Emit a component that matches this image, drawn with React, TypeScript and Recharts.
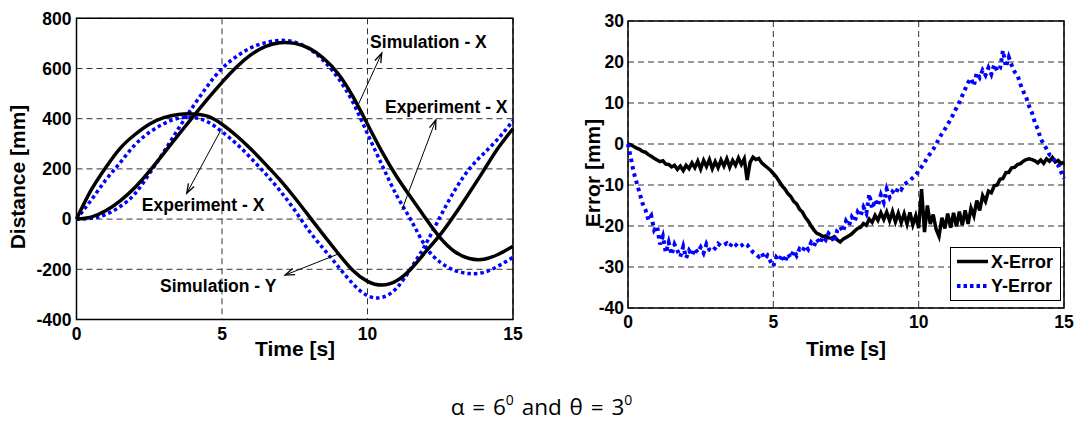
import { LineChart, Line, XAxis, YAxis, CartesianGrid, ReferenceArea, ReferenceDot, ReferenceLine } from "recharts";

// ---- left chart: distance vs time ----
const timeA = [0, 0.5, 1, 1.5, 2, 2.5, 3, 3.5, 4, 4.5, 5, 5.5, 6, 6.5, 7, 7.5, 8, 8.5, 9, 9.5, 10, 10.5, 11, 11.5, 12, 12.5, 13, 13.5, 14, 14.5, 15];
const simX = [0, 8, 33, 73, 125, 190, 262, 335, 407, 478, 545, 606, 655, 688, 703, 700, 680, 640, 578, 488, 378, 268, 170, 85, 2, -75, -130, -157, -160, -140, -108];
const simY = [0, 115, 205, 282, 336, 378, 404, 417, 419, 410, 378, 332, 278, 218, 155, 85, 10, -65, -138, -205, -248, -263, -246, -198, -130, -62, 18, 105, 195, 285, 360];
const expX = [0, 3, 18, 50, 100, 180, 268, 360, 448, 530, 600, 648, 683, 703, 712, 705, 678, 630, 560, 465, 340, 215, 95, -5, -110, -172, -205, -217, -212, -187, -152];
const expY = [0, 75, 155, 225, 295, 345, 380, 402, 405, 388, 348, 300, 242, 180, 112, 35, -48, -120, -190, -258, -305, -312, -275, -195, -100, 10, 115, 200, 262, 322, 392];
const distTicks = [-400, -200, 0, 200, 400, 600, 800];
const timeTicks = [0, 5, 10, 15];

// ---- right chart: error vs time ----
const timeE = [
  0, 0.1, 0.2, 0.3, 0.4, 0.5, 0.6, 0.7, 0.8, 0.9, 1, 1.1, 1.2, 1.3, 1.4, 1.5, 1.6, 1.7, 1.8, 1.9,
  2, 2.1, 2.2, 2.3, 2.4, 2.5, 2.6, 2.7, 2.8, 2.9, 3, 3.1, 3.2, 3.3, 3.4, 3.5, 3.6, 3.7, 3.8, 3.9,
  4, 4.1, 4.2, 4.3, 4.4, 4.5, 4.6, 4.7, 4.8, 4.9, 5, 5.1, 5.2, 5.3, 5.4, 5.5, 5.6, 5.7, 5.8, 5.9,
  6, 6.1, 6.2, 6.3, 6.4, 6.5, 6.6, 6.7, 6.8, 6.9, 7, 7.1, 7.2, 7.3, 7.4, 7.5, 7.6, 7.7, 7.8, 7.9,
  8, 8.1, 8.2, 8.3, 8.4, 8.5, 8.6, 8.7, 8.8, 8.9, 9, 9.1, 9.2, 9.3, 9.4, 9.5, 9.6, 9.7, 9.8, 9.9,
  10, 10.1, 10.2, 10.3, 10.4, 10.5, 10.6, 10.7, 10.8, 10.9, 11, 11.1, 11.2, 11.3, 11.4, 11.5, 11.6, 11.7, 11.8, 11.9,
  12, 12.1, 12.2, 12.3, 12.4, 12.5, 12.6, 12.7, 12.8, 12.9, 13, 13.1, 13.2, 13.3, 13.4, 13.5, 13.6, 13.7, 13.8, 13.9,
  14, 14.1, 14.2, 14.3, 14.4, 14.5, 14.6, 14.7, 14.8, 14.9, 15,
];
const xErr = [
  0, -0.2, -0.6, -1.0, -1.3, -1.8, -2.0, -2.6, -3.0, -3.5, -3.9, -4.3, -4.1, -4.9, -5.0, -5.6, -5.2, -6.2, -5.4, -6.5,
  -5.2, -6.0, -4.6, -5.8, -4.2, -6.1, -4.0, -5.5, -3.8, -6.0, -4.3, -5.8, -3.9, -5.4, -3.6, -5.7, -4.0, -5.2, -3.4, -5.0,
  -3.6, -8.8, -4.5, -3.2, -3.8, -3.5, -4.6, -5.2, -5.8, -6.4, -7.2, -8.0, -9.1, -10.2, -11.0, -12.1, -12.8, -14.0, -14.6, -15.9,
  -16.6, -17.9, -18.8, -20.0, -21.0, -21.8, -22.1, -22.6, -22.4, -22.9, -23.0, -22.6, -23.4, -23.9, -23.2, -22.8, -22.4, -21.9, -21.2, -20.6,
  -20.3, -19.4, -19.8, -18.3, -19.1, -17.4, -18.6, -16.8, -18.4, -16.6, -18.7, -16.5, -19.0, -16.9, -19.2, -17.0, -19.5, -16.7, -19.7, -17.5,
  -20.5, -11.0, -21.5, -15.0, -19.5, -17.2, -20.8, -22.5, -18.0, -20.6, -17.0, -20.4, -16.8, -20.1, -16.5, -19.8, -16.2, -19.5, -15.6, -17.5,
  -13.8, -16.2, -12.6, -14.0, -11.5, -11.9, -10.2, -10.0, -8.6, -8.4, -7.0, -6.9, -5.8, -5.7, -5.0, -4.8, -4.2, -3.8, -3.6, -3.8,
  -4.1, -4.6, -3.9, -4.7, -3.6, -4.2, -3.3, -4.4, -4.0, -4.8, -4.4,
];
const yErr = [
  0, -3.5, -7.0, -9.5, -12.0, -14.5, -16.0, -18.5, -17.5, -21.0, -20.0, -24.5, -22.5, -26.5, -24.0, -27.0, -24.5, -26.0, -27.5, -25.0,
  -27.8, -26.0, -27.2, -25.5, -26.5, -25.2, -26.6, -24.4, -25.8, -26.2, -25.4, -24.3, -24.9, -24.6, -24.2, -25.0, -24.0, -24.5, -25.2, -24.8,
  -24.2, -24.6, -25.5, -26.4, -26.9, -27.5, -26.6, -28.0, -27.2, -28.6, -29.8, -27.6, -28.4, -27.0, -28.8, -26.8, -27.8, -26.0, -27.2, -25.6,
  -26.2, -24.8, -25.7, -24.0, -24.9, -23.2, -24.3, -22.6, -23.4, -21.8, -22.6, -24.0, -21.0, -20.2, -21.4, -18.8, -19.9, -17.8, -18.9, -16.6,
  -17.6, -15.4, -16.9, -12.2, -15.8, -13.6, -15.1, -12.4, -14.2, -11.0, -13.0, -11.6, -12.2, -10.6, -11.1, -9.8, -9.4, -8.9, -8.2, -7.6,
  -6.6, -5.6, -4.6, -3.2, -2.3, -1.3, -0.1, 1.3, 2.5, 3.6, 4.8, 6.0, 7.4, 8.8, 10.2, 11.8, 13.4, 15.0, 16.0, 14.2,
  17.4, 16.2, 18.0, 16.8, 18.6, 17.0, 19.4, 17.8, 18.4, 22.8, 18.8, 21.2, 19.2, 17.6, 16.8, 14.6, 12.8, 11.4, 9.2, 7.6,
  5.2, 3.6, 1.2, 0.0, -1.2, -2.6, -3.0, -4.6, -5.2, -6.8, -8.4,
];
const errTicks = [-40, -30, -20, -10, 0, 10, 20, 30];

// annotations on the left chart: text anchor point and arrow (tail -> head)
const notes = [
  { text: "Simulation - X", x: 10.09, y: 704, anchor: "start", from: { x: 9.65, y: 448 }, to: { x: 10.49, y: 661 } },
  { text: "Experiment - X", x: 10.6, y: 448, anchor: "start", from: { x: 11.18, y: 36 }, to: { x: 12.35, y: 395 } },
  { text: "Experiment - X", x: 4.35, y: 56, anchor: "middle", from: { x: 4.93, y: 348 }, to: { x: 3.79, y: 103 } },
  { text: "Simulation - Y", x: 2.87, y: -267, anchor: "start", from: { x: 9.06, y: -136 }, to: { x: 7.17, y: -223 } },
];

const FONT = "'Liberation Sans', Arial, sans-serif";
const BLUE = "#0000ff";
const tickStyle = { fill: "#000", fontSize: 17.5, fontWeight: 700, fontFamily: FONT };

const distData = timeA.map((t, i) => ({ t, simX: simX[i], simY: simY[i], expX: expX[i], expY: expY[i] }));
const errData = timeE.map((t, i) => ({ t, xErr: xErr[i], yErr: yErr[i] }));

function Arrow(props: any) {
  const { x1, y1, x2, y2 } = props;
  const ang = Math.atan2(y2 - y1, x2 - x1);
  const h = 10;
  const w = 0.33;
  const ax = x2 - h * Math.cos(ang - w);
  const ay = y2 - h * Math.sin(ang - w);
  const bx = x2 - h * Math.cos(ang + w);
  const by = y2 - h * Math.sin(ang + w);
  return (
    <g>
      <line x1={x1} y1={y1} x2={x2} y2={y2} stroke="#000" strokeWidth={1} />
      <polyline points={`${ax},${ay} ${x2},${y2} ${bx},${by}`} fill="none" stroke="#000" strokeWidth={1.3} />
    </g>
  );
}

const axisTitle = { position: "absolute" as const, fontFamily: FONT, fontWeight: 700, fontSize: 21, lineHeight: "21px", color: "#000", whiteSpace: "nowrap" as const };

export default function App() {
  return (
    <div style={{ position: "absolute", left: 0, top: 0, width: 1083, height: 424, background: "#fff", overflow: "hidden" }}>
      <div style={{ position: "absolute", left: 0, top: 0 }}>
        <LineChart width={540} height={360} data={distData} margin={{ top: 18.3, right: 27, bottom: 10.5, left: 16.5 }}>
          <CartesianGrid stroke="#333" strokeDasharray="6 4" />
          <XAxis dataKey="t" type="number" domain={[0, 15]} ticks={timeTicks} tick={tickStyle} tickLine={false} axisLine={false} height={30} />
          <YAxis type="number" domain={[-400, 800]} ticks={distTicks} tick={tickStyle} tickLine={false} axisLine={false} width={60} tickSize={3} tickMargin={2} />
          <ReferenceArea x1={0} x2={15} y1={-400} y2={800} fill="none" stroke="#000" strokeWidth={1.5} ifOverflow="visible" />
          <Line dataKey="expY" type="natural" stroke={BLUE} strokeWidth={3.5} strokeDasharray="3.5 3" dot={false} isAnimationActive={false} />
          <Line dataKey="expX" type="natural" stroke={BLUE} strokeWidth={3.5} strokeDasharray="3.5 3" dot={false} isAnimationActive={false} />
          <Line dataKey="simY" type="natural" stroke="#000" strokeWidth={3.5} dot={false} isAnimationActive={false} />
          <Line dataKey="simX" type="natural" stroke="#000" strokeWidth={3.5} dot={false} isAnimationActive={false} />
          {notes.map((n, i) => (
            <ReferenceLine key={"a" + i} segment={[n.from, n.to]} shape={Arrow} ifOverflow="visible" />
          ))}
          {notes.map((n, i) => (
            <ReferenceDot
              key={"n" + i}
              x={n.x}
              y={n.y}
              ifOverflow="visible"
              shape={(p: any) => (
                <text x={p.cx} y={p.cy} textAnchor={n.anchor} dominantBaseline="central" fontFamily={FONT} fontWeight={700} fontSize={17.5} fill="#000">
                  {n.text}
                </text>
              )}
            />
          ))}
        </LineChart>
      </div>

      <div style={{ position: "absolute", left: 540, top: 0 }}>
        <LineChart width={543} height={360} data={errData} margin={{ top: 21, right: 19, bottom: 22, left: 28 }}>
          <CartesianGrid stroke="#333" strokeDasharray="6 4" />
          <XAxis dataKey="t" type="number" domain={[0, 15]} ticks={timeTicks} tick={tickStyle} tickLine={false} axisLine={false} height={30} />
          <YAxis type="number" domain={[-40, 30]} ticks={errTicks} tick={tickStyle} tickLine={false} axisLine={false} width={60} tickSize={2} tickMargin={2} />
          <ReferenceArea x1={0} x2={15} y1={-40} y2={30} fill="none" stroke="#000" strokeWidth={1.5} ifOverflow="visible" />
          <Line dataKey="xErr" type="linear" stroke="#000" strokeWidth={3.5} dot={false} isAnimationActive={false} />
          <Line dataKey="yErr" type="linear" stroke={BLUE} strokeWidth={4} strokeDasharray="3.5 4" dot={false} isAnimationActive={false} />
        </LineChart>
      </div>

      {/* legend of the right chart */}
      <div style={{ position: "absolute", left: 950, top: 246.5, width: 111, height: 54, boxSizing: "border-box", border: "1.5px solid #000", background: "#fff" }}>
        <svg width={108} height={51} style={{ position: "absolute", left: 0, top: 0 }}>
          <line x1={6} x2={37} y1={13.5} y2={13.5} stroke="#000" strokeWidth={3.5} />
          <text x={40} y={13.5} dominantBaseline="central" fontFamily={FONT} fontWeight={700} fontSize={18} fill="#000">X-Error</text>
          <line x1={6} x2={37} y1={38} y2={38} stroke={BLUE} strokeWidth={4} strokeDasharray="3.5 3" />
          <text x={40} y={38} dominantBaseline="central" fontFamily={FONT} fontWeight={700} fontSize={18} fill="#000">Y-Error</text>
        </svg>
      </div>

      {/* axis titles */}
      <div style={{ ...axisTitle, left: 17, top: 177, transform: "translate(-50%, -50%) rotate(-90deg)" }}>Distance [mm]</div>
      <div style={{ ...axisTitle, left: 295, top: 338, transform: "translateX(-50%)" }}>Time [s]</div>
      <div style={{ ...axisTitle, left: 592, top: 173, transform: "translate(-50%, -50%) rotate(-90deg)" }}>Error [mm]</div>
      <div style={{ ...axisTitle, left: 846, top: 338, transform: "translateX(-50%)" }}>Time [s]</div>

      {/* caption */}
      <div style={{ position: "absolute", left: 0, top: 390, width: 1083, textAlign: "center", fontFamily: "'Open Sans', sans-serif", fontSize: 22.5, lineHeight: "normal", color: "#000", wordSpacing: 2 }}>
        α = 6<sup style={{ fontSize: 14, verticalAlign: 10, lineHeight: "normal" }}>0</sup> and θ = 3<sup style={{ fontSize: 14, verticalAlign: 10, lineHeight: "normal" }}>0</sup>
      </div>
    </div>
  );
}
